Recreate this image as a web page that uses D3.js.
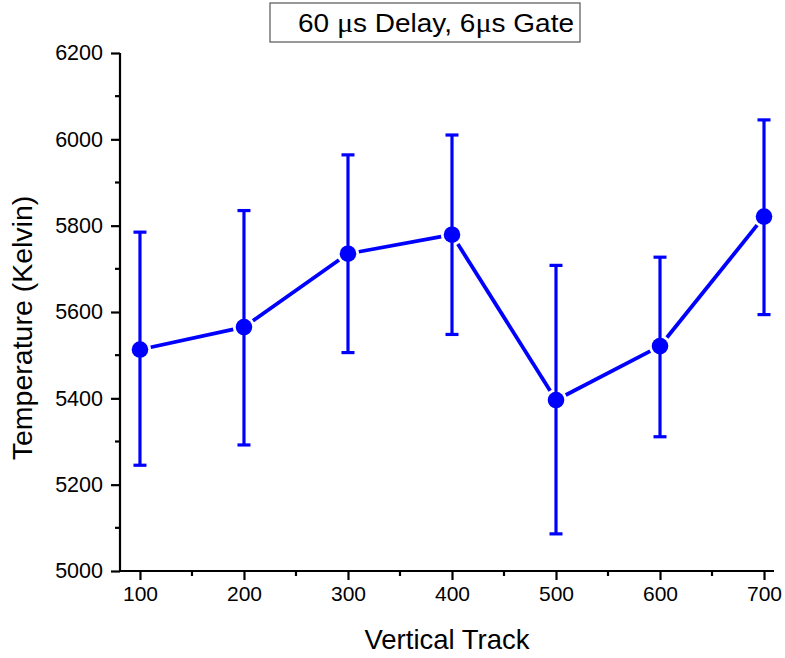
<!DOCTYPE html>
<html>
<head>
<meta charset="utf-8">
<script src="https://cdn.jsdelivr.net/npm/d3@7"></script>
<style>
  html, body { margin: 0; padding: 0; background: #fff; }
  svg { display: block; }
  text { font-family: "Liberation Sans", Arial, sans-serif; fill: #000; }
</style>
</head>
<body>
<svg id="chart" width="785" height="658"></svg>
<script>
const tracks = [100, 200, 300, 400, 500, 600, 700];
const temperature = [5513, 5565, 5735, 5779, 5396, 5521, 5821];
const errUpper = [5785, 5835, 5964, 6010, 5708, 5727, 6045];
const errLower = [5245, 5292, 5506, 5548, 5086, 5311, 5594];
const xTicks = [100, 200, 300, 400, 500, 600, 700];
const xMinorTicks = [150, 250, 350, 450, 550, 650];
const yTicks = [5000, 5200, 5400, 5600, 5800, 6000, 6200];
const yMinorTicks = [5100, 5300, 5500, 5700, 5900, 6100];
const titleParts = [["60 ", false], ["\u03bc", true], ["s Delay, 6", false], ["\u03bc", true], ["s Gate", false]];
const xTitle = "Vertical Track";
const yTitle = "Temperature (Kelvin)";

const svg = d3.select("#chart");
const pL = 120, pR = 774, pT = 53, pB = 571;
const x = d3.scaleLinear().domain([80.8, 709.6]).range([pL, pR]);
const y = d3.scaleLinear().domain([5000, 6200]).range([pB, pT]);
const blue = "#0000ff";

// Axes
const xAxis = d3.axisBottom(x).tickValues(xTicks).tickSize(9).tickPadding(6).tickFormat(d3.format("d"));
const gx = svg.append("g").attr("transform", `translate(0,${pB})`).call(xAxis);
gx.select(".domain").attr("stroke", "#000").attr("stroke-width", 2.2).attr("d", `M${pL},0H${pR}`);
gx.selectAll(".tick line").attr("stroke-width", 2.2);
gx.selectAll(".tick text").style("font-size", "21px").attr("dy", "0.72em");
gx.selectAll(".minor").data(xMinorTicks).enter().append("line")
  .attr("x1", d => x(d)).attr("x2", d => x(d)).attr("y1", 0).attr("y2", 5)
  .attr("stroke", "#000").attr("stroke-width", 2.2);

const yAxis = d3.axisLeft(y).tickValues(yTicks).tickSize(9).tickPadding(8).tickFormat(d3.format("d"));
const gy = svg.append("g").attr("transform", `translate(${pL},0)`).call(yAxis);
gy.select(".domain").attr("stroke", "#000").attr("stroke-width", 2.2).attr("d", `M0,${pT}V${pB}`);
gy.selectAll(".tick line").attr("stroke-width", 2.2);
gy.selectAll(".tick text").style("font-size", "21.5px");
gy.selectAll(".minor").data(yMinorTicks).enter().append("line")
  .attr("y1", d => y(d)).attr("y2", d => y(d)).attr("x1", 0).attr("x2", -5)
  .attr("stroke", "#000").attr("stroke-width", 2.2);

// Axis titles
svg.append("text").attr("x", 447).attr("y", 649).attr("text-anchor", "middle")
  .style("font-size", "27.5px").text(xTitle);
svg.append("text").attr("transform", "translate(32,328) rotate(-90)").attr("text-anchor", "middle")
  .style("font-size", "28.5px").text(yTitle);

// Title box
svg.append("rect").attr("x", 270).attr("y", 3).attr("width", 310).attr("height", 39)
  .attr("fill", "#fff").attr("stroke", "#555").attr("stroke-width", 1.2);
const tt = svg.append("text").attr("x", 298).attr("y", 32)
  .attr("textLength", 276).attr("lengthAdjust", "spacingAndGlyphs")
  .style("font-size", "26px");
titleParts.forEach(([s, greek]) => {
  const sp = tt.append("tspan").text(s);
  if (greek) sp.style("font-family", "'Liberation Serif', serif").style("font-size", "28px");
});

const data = tracks.map((t, i) => ({ t, v: temperature[i], hi: errUpper[i], lo: errLower[i] }));

// Error bars
const eb = svg.append("g").attr("stroke", blue).attr("stroke-width", 3.2);
data.forEach(d => {
  eb.append("line").attr("x1", x(d.t)).attr("x2", x(d.t)).attr("y1", y(d.hi)).attr("y2", y(d.lo));
  eb.append("line").attr("x1", x(d.t) - 6.5).attr("x2", x(d.t) + 6.5).attr("y1", y(d.hi)).attr("y2", y(d.hi));
  eb.append("line").attr("x1", x(d.t) - 6.5).attr("x2", x(d.t) + 6.5).attr("y1", y(d.lo)).attr("y2", y(d.lo));
});

// Connecting line segments with gap near markers
const gap = 11;
const lg = svg.append("g").attr("stroke", blue).attr("stroke-width", 3.8).attr("stroke-linecap", "butt");
for (let i = 0; i < data.length - 1; i++) {
  const x1 = x(data[i].t), y1 = y(data[i].v), x2 = x(data[i + 1].t), y2 = y(data[i + 1].v);
  const len = Math.hypot(x2 - x1, y2 - y1);
  const ux = (x2 - x1) / len, uy = (y2 - y1) / len;
  lg.append("line").attr("x1", x1 + ux * gap).attr("y1", y1 + uy * gap)
    .attr("x2", x2 - ux * gap).attr("y2", y2 - uy * gap);
}

// Markers
svg.append("g").selectAll("circle").data(data).enter().append("circle")
  .attr("cx", d => x(d.t)).attr("cy", d => y(d.v)).attr("r", 8.3).attr("fill", blue);
</script>
</body>
</html>
